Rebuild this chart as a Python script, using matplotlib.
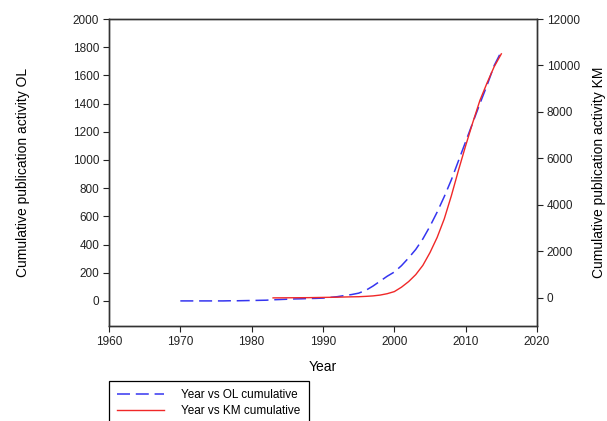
import matplotlib
matplotlib.use('Agg')
import matplotlib.pyplot as plt

plt.rcParams['font.family'] = ['Liberation Sans', 'DejaVu Sans']

# cumulative publication counts
ol_years = list(range(1970, 2016))
ol_counts = [0, 0, 0, 0, 0, 0, 0, 1, 1, 2, 3, 4, 5, 8, 10, 12, 14, 15, 17, 18,
             20, 25, 30, 38, 45, 55, 75, 105, 140, 175, 205, 250, 305, 365, 440,
             530, 630, 740, 860, 995, 1130, 1265, 1400, 1530, 1670, 1770]

km_years = list(range(1983, 2016))
km_counts = [0, 2, 4, 6, 8, 10, 15, 20, 25, 30, 38, 45, 50, 65, 85, 120, 180,
             270, 460, 700, 1000, 1400, 1950, 2600, 3400, 4400, 5500, 6550,
             7550, 8500, 9250, 9950, 10500]

x_ticks = [1960, 1970, 1980, 1990, 2000, 2010, 2020]
ol_ticks = list(range(0, 2001, 200))
km_ticks = list(range(0, 12001, 2000))

fig = plt.figure(figsize=(6.07, 4.21), dpi=100)
ax = fig.add_axes([109 / 607, 1 - 326 / 421, (537 - 109) / 607, (326 - 19) / 421])
ax2 = ax.twinx()

l1, = ax.plot(ol_years, ol_counts, color='#3535f0', lw=1.1, dashes=(8.5, 3.8),
              label='Year vs OL cumulative')
l2, = ax2.plot(km_years, km_counts, color='#f02828', lw=1.0,
               label='Year vs KM cumulative')

ax.set_xlim(1960, 2020)
ax.set_ylim(-178, 2000)
ax2.set_ylim(-1210, 12000)
ax.set_xticks(x_ticks)
ax.set_yticks(ol_ticks)
ax2.set_yticks(km_ticks)

for a in (ax, ax2):
    a.tick_params(direction='out', length=4, width=0.8, labelsize=8.5,
                  colors='#222222', pad=3)
    for s in a.spines.values():
        s.set_color('#333333')
        s.set_linewidth(1.0)

ax.set_xlabel('Year', fontsize=10, labelpad=9)
ax.set_ylabel('Cumulative publication activity OL', fontsize=10, labelpad=31)
ax2.set_ylabel('Cumulative publication activity KM', fontsize=10, labelpad=9)

leg = fig.legend(handles=[l1, l2], loc='upper left',
                 bbox_to_anchor=(109 / 607, 1 - 381 / 421),
                 bbox_transform=fig.transFigure, fontsize=8.5, fancybox=False,
                 edgecolor='black', framealpha=1, handlelength=4,
                 handletextpad=1.4, labelspacing=0.35, borderpad=0.7,
                 borderaxespad=0)
leg.get_frame().set_linewidth(0.9)

fig.savefig('out.png', dpi=100)
